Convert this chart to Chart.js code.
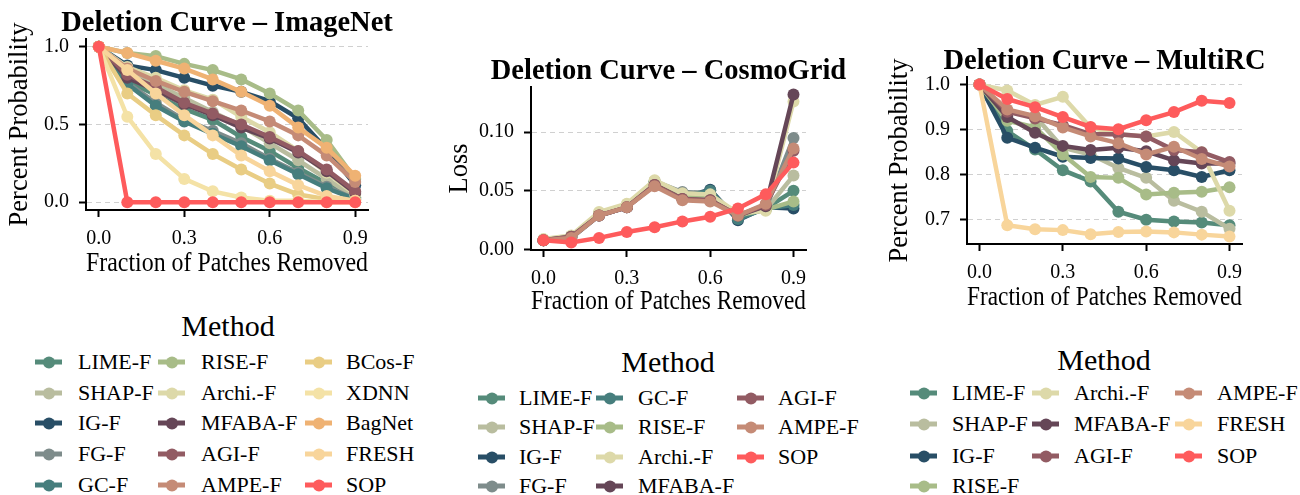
<!DOCTYPE html>
<html>
<head>
<meta charset="utf-8">
<script src="https://cdn.jsdelivr.net/npm/chart.js@4.4.1/dist/chart.umd.min.js"></script>
<style>
  body { margin: 0; width: 1300px; height: 495px; background: #fff; overflow: hidden; position: relative;
         font-family: "Liberation Serif", "DejaVu Serif", serif; }
  canvas { position: absolute; }
  .lt { position: absolute; font-size: 30px; line-height: 1; white-space: nowrap; transform: translate(-50%, -50%); }
  .li { position: absolute; font-size: 22px; line-height: 1; white-space: nowrap; transform: translateY(-50%); }
  .mk { position: absolute; width: 27px; height: 5px; transform: translateY(-50%); }
  .mk span { position: absolute; left: 7.5px; top: -3.5px; width: 12px; height: 12px; border-radius: 50%; background: inherit; }
</style>
</head>
<body>
<canvas id="c1" width="420" height="290" style="left:0px;top:0px"></canvas>
<canvas id="c2" width="420" height="277" style="left:440px;top:48px"></canvas>
<canvas id="c3" width="420" height="281" style="left:880px;top:38px"></canvas>
<div id="legends"></div>
<script>
const SERIF = '"Liberation Serif", "DejaVu Serif", serif';

// --- DATA ---
const fractions = [0.0, 0.1, 0.2, 0.3, 0.4, 0.5, 0.6, 0.7, 0.8, 0.9];
const xTicks = [0.0, 0.3, 0.6, 0.9];

const methodColors = {
  'LIME-F': '#558b7a', 'SHAP-F': '#b9bd9f', 'IG-F': '#284e66', 'FG-F': '#7e8c8b',
  'GC-F': '#467e7d', 'RISE-F': '#a8bc88', 'Archi.-F': '#ddd9a9', 'MFABA-F': '#654657',
  'AGI-F': '#925b63', 'AMPE-F': '#c58b76', 'BCos-F': '#e9cd84', 'XDNN': '#f4e2a6',
  'BagNet': '#efb273', 'FRESH': '#f8d59b', 'SOP': '#fe5b5c'
};

// ImageNet (percent probability)
const imagenetMethods = ['LIME-F', 'SHAP-F', 'IG-F', 'FG-F', 'GC-F', 'RISE-F', 'Archi.-F', 'MFABA-F',
                         'AGI-F', 'AMPE-F', 'BCos-F', 'XDNN', 'BagNet', 'FRESH', 'SOP'];
const imagenetValues = [
  [1.0, 0.78, 0.69, 0.60, 0.53, 0.42, 0.33, 0.22, 0.12, 0.03],
  [1.0, 0.85, 0.76, 0.67, 0.58, 0.49, 0.38, 0.27, 0.15, 0.03],
  [1.0, 0.88, 0.85, 0.80, 0.75, 0.71, 0.65, 0.54, 0.34, 0.11],
  [1.0, 0.77, 0.64, 0.53, 0.46, 0.38, 0.28, 0.19, 0.10, 0.02],
  [1.0, 0.76, 0.62, 0.52, 0.44, 0.36, 0.27, 0.18, 0.09, 0.02],
  [1.0, 0.96, 0.94, 0.89, 0.85, 0.79, 0.70, 0.59, 0.40, 0.15],
  [1.0, 0.87, 0.80, 0.72, 0.66, 0.55, 0.45, 0.33, 0.19, 0.05],
  [1.0, 0.80, 0.72, 0.63, 0.56, 0.48, 0.41, 0.32, 0.20, 0.06],
  [1.0, 0.82, 0.74, 0.64, 0.57, 0.50, 0.42, 0.33, 0.21, 0.07],
  [1.0, 0.86, 0.78, 0.71, 0.65, 0.59, 0.52, 0.43, 0.30, 0.13],
  [1.0, 0.70, 0.56, 0.43, 0.31, 0.21, 0.12, 0.05, 0.02, 0.01],
  [1.0, 0.55, 0.31, 0.15, 0.07, 0.03, 0.01, 0.01, 0.00, 0.00],
  [1.0, 0.96, 0.91, 0.86, 0.79, 0.71, 0.62, 0.48, 0.35, 0.17],
  [1.0, 0.85, 0.70, 0.56, 0.43, 0.30, 0.20, 0.11, 0.04, 0.01],
  [1.0, 0.00, 0.00, 0.00, 0.00, 0.00, 0.00, 0.00, 0.00, 0.00]
];

// CosmoGrid (loss)
const cosmoMethods = ['LIME-F', 'SHAP-F', 'IG-F', 'FG-F', 'GC-F', 'RISE-F', 'Archi.-F', 'MFABA-F',
                      'AGI-F', 'AMPE-F', 'SOP'];
const cosmoValues = [
  [0.008, 0.011, 0.030, 0.037, 0.057, 0.047, 0.047, 0.028, 0.035, 0.050],
  [0.008, 0.011, 0.031, 0.037, 0.058, 0.047, 0.047, 0.029, 0.034, 0.063],
  [0.008, 0.010, 0.029, 0.036, 0.056, 0.044, 0.051, 0.025, 0.036, 0.035],
  [0.008, 0.011, 0.030, 0.037, 0.058, 0.049, 0.048, 0.027, 0.035, 0.095],
  [0.008, 0.010, 0.030, 0.037, 0.057, 0.045, 0.050, 0.026, 0.035, 0.038],
  [0.008, 0.011, 0.030, 0.037, 0.057, 0.046, 0.046, 0.029, 0.034, 0.041],
  [0.009, 0.012, 0.032, 0.039, 0.059, 0.048, 0.047, 0.031, 0.033, 0.126],
  [0.008, 0.011, 0.029, 0.036, 0.055, 0.043, 0.042, 0.029, 0.037, 0.132],
  [0.008, 0.011, 0.029, 0.036, 0.055, 0.043, 0.042, 0.029, 0.038, 0.084],
  [0.008, 0.010, 0.029, 0.036, 0.054, 0.042, 0.041, 0.029, 0.039, 0.086],
  [0.008, 0.006, 0.010, 0.015, 0.019, 0.024, 0.028, 0.035, 0.047, 0.074]
];

// MultiRC (percent probability)
const multircMethods = ['LIME-F', 'SHAP-F', 'IG-F', 'RISE-F', 'Archi.-F', 'MFABA-F', 'AGI-F', 'AMPE-F',
                        'FRESH', 'SOP'];
const multircValues = [
  [1.0, 0.897, 0.856, 0.810, 0.785, 0.718, 0.700, 0.696, 0.694, 0.688],
  [1.0, 0.940, 0.930, 0.860, 0.845, 0.815, 0.793, 0.742, 0.718, 0.680],
  [1.0, 0.882, 0.860, 0.840, 0.837, 0.836, 0.817, 0.810, 0.795, 0.810],
  [1.0, 0.920, 0.905, 0.845, 0.795, 0.793, 0.756, 0.760, 0.762, 0.772],
  [1.0, 0.987, 0.955, 0.973, 0.905, 0.890, 0.885, 0.895, 0.850, 0.720],
  [1.0, 0.928, 0.893, 0.864, 0.855, 0.860, 0.852, 0.832, 0.825, 0.825],
  [1.0, 0.940, 0.925, 0.910, 0.890, 0.890, 0.885, 0.855, 0.850, 0.828],
  [1.0, 0.945, 0.930, 0.905, 0.885, 0.870, 0.845, 0.862, 0.835, 0.818],
  [1.0, 0.688, 0.679, 0.677, 0.668, 0.673, 0.674, 0.672, 0.667, 0.663],
  [1.0, 0.968, 0.950, 0.928, 0.906, 0.901, 0.921, 0.939, 0.964, 0.959]
];

// title centred over the plot area (matplotlib style), not over the canvas
const areaTitle = {
  id: 'areaTitle',
  afterDraw(chart, args, opts) {
    const { ctx, chartArea } = chart;
    ctx.save();
    ctx.font = 'bold 28.5px ' + SERIF;
    ctx.fillStyle = '#000';
    ctx.textAlign = 'center';
    ctx.textBaseline = 'alphabetic';
    ctx.fillText(opts.text, (chartArea.left + chartArea.right) / 2, chartArea.top - 8);
    ctx.restore();
  }
};

// --- CHARTS ---
function makeChart(id, methods, values, o) {
  const datasets = methods.map((m, i) => ({
    label: m,
    data: fractions.map((f, j) => ({ x: f, y: values[i][j] })),
    borderColor: methodColors[m],
    backgroundColor: methodColors[m],
    borderWidth: 4.5,
    pointRadius: 6,
    pointHoverRadius: 6,
    pointBorderWidth: 0,
    tension: 0,
    order: methods.length - i   // later methods on top, like matplotlib
  }));

  const tickFont = { family: SERIF, size: 20 };
  const labelFont = { family: SERIF, size: 26.5, lineHeight: 1.2 };

  return new Chart(document.getElementById(id), {
    type: 'line',
    data: { datasets },
    plugins: [areaTitle],
    options: {
      responsive: false,
      animation: false,
      events: [],
      layout: { padding: { top: 39, right: o.padRight, left: 0, bottom: 0 } },
      plugins: {
        legend: { display: false },
        tooltip: { enabled: false },
        title: { display: false },
        areaTitle: { text: o.title }
      },
      scales: {
        x: {
          type: 'linear', min: -0.045, max: 0.945,
          afterBuildTicks: s => { s.ticks = xTicks.map(v => ({ value: v })); },
          afterFit: s => { s.height = o.xHeight; },
          ticks: { font: tickFont, color: '#000', padding: 10, callback: v => v.toFixed(1) },
          grid: { drawOnChartArea: false, drawTicks: true, tickLength: 7, tickWidth: 2, tickColor: '#000' },
          border: { display: true, color: '#000', width: 2 },
          title: { display: true, text: 'Fraction of Patches Removed', color: '#000', font: labelFont,
                   padding: { top: 0, bottom: o.xTitlePad } }
        },
        y: {
          type: 'linear', min: o.yMin, max: o.yMax,
          afterBuildTicks: s => { s.ticks = o.yTicks.map(v => ({ value: v })); },
          afterFit: s => { s.width = o.yWidth; },
          ticks: { font: tickFont, color: '#000', padding: 10, callback: v => v.toFixed(o.yDec) },
          grid: { drawOnChartArea: true, color: '#d0d0d0', lineWidth: 1, drawTicks: true,
                  tickLength: 7, tickWidth: 2, tickColor: '#000' },
          border: { display: true, color: '#000', width: 2, dash: [5, 4] },
          title: { display: true, text: o.yLabel, color: '#000', font: labelFont,
                   padding: { top: 4, bottom: 0 } }
        }
      }
    }
  });
}

makeChart('c1', imagenetMethods, imagenetValues, {
  title: 'Deletion Curve – ImageNet', yLabel: 'Percent Probability',
  yMin: -0.05, yMax: 1.05, yTicks: [0, 0.5, 1.0], yDec: 1,
  yWidth: 86, padRight: 52, xHeight: 80, xTitlePad: 10.5
});
makeChart('c2', cosmoMethods, cosmoValues, {
  title: 'Deletion Curve – CosmoGrid', yLabel: 'Loss',
  yMin: -0.0003, yMax: 0.1383, yTicks: [0, 0.05, 0.10], yDec: 2,
  yWidth: 91, padRight: 54, xHeight: 75, xTitlePad: 7
});
makeChart('c3', multircMethods, multircValues, {
  title: 'Deletion Curve – MultiRC', yLabel: 'Percent Probability',
  yMin: 0.6462, yMax: 1.0169, yTicks: [0.7, 0.8, 0.9, 1.0], yDec: 1,
  yWidth: 87, padRight: 58, xHeight: 75, xTitlePad: 5.5
});

// --- LEGENDS (column-major, 3 columns, like matplotlib) ---
const legendLayouts = [
  { methods: imagenetMethods, titleX: 228, titleY: 326, markX: [35, 158, 305], textX: [78, 201, 346], rowY: [362, 393, 423, 454, 485] },
  { methods: cosmoMethods, titleX: 668, titleY: 362, markX: [478, 596, 737], textX: [519, 638, 778], rowY: [398, 427, 457, 486] },
  { methods: multircMethods, titleX: 1104, titleY: 360, markX: [910, 1032, 1175], textX: [952, 1074, 1217], rowY: [393, 424, 456, 486] }
];

const host = document.getElementById('legends');
legendLayouts.forEach(L => {
  const t = document.createElement('div');
  t.className = 'lt';
  t.textContent = 'Method';
  t.style.left = L.titleX + 'px';
  t.style.top = L.titleY + 'px';
  host.appendChild(t);

  const n = L.methods.length, ncol = 3;
  const base = Math.floor(n / ncol), extra = n % ncol;
  let idx = 0;
  for (let c = 0; c < ncol; c++) {
    const count = base + (c < extra ? 1 : 0);
    for (let r = 0; r < count; r++, idx++) {
      const m = L.methods[idx];
      const mk = document.createElement('div');
      mk.className = 'mk';
      mk.style.left = L.markX[c] + 'px';
      mk.style.top = L.rowY[r] + 'px';
      mk.style.background = methodColors[m];
      mk.appendChild(document.createElement('span'));
      host.appendChild(mk);

      const tx = document.createElement('div');
      tx.className = 'li';
      tx.textContent = m;
      tx.style.left = L.textX[c] + 'px';
      tx.style.top = L.rowY[r] + 'px';
      host.appendChild(tx);
    }
  }
});
</script>
</body>
</html>
